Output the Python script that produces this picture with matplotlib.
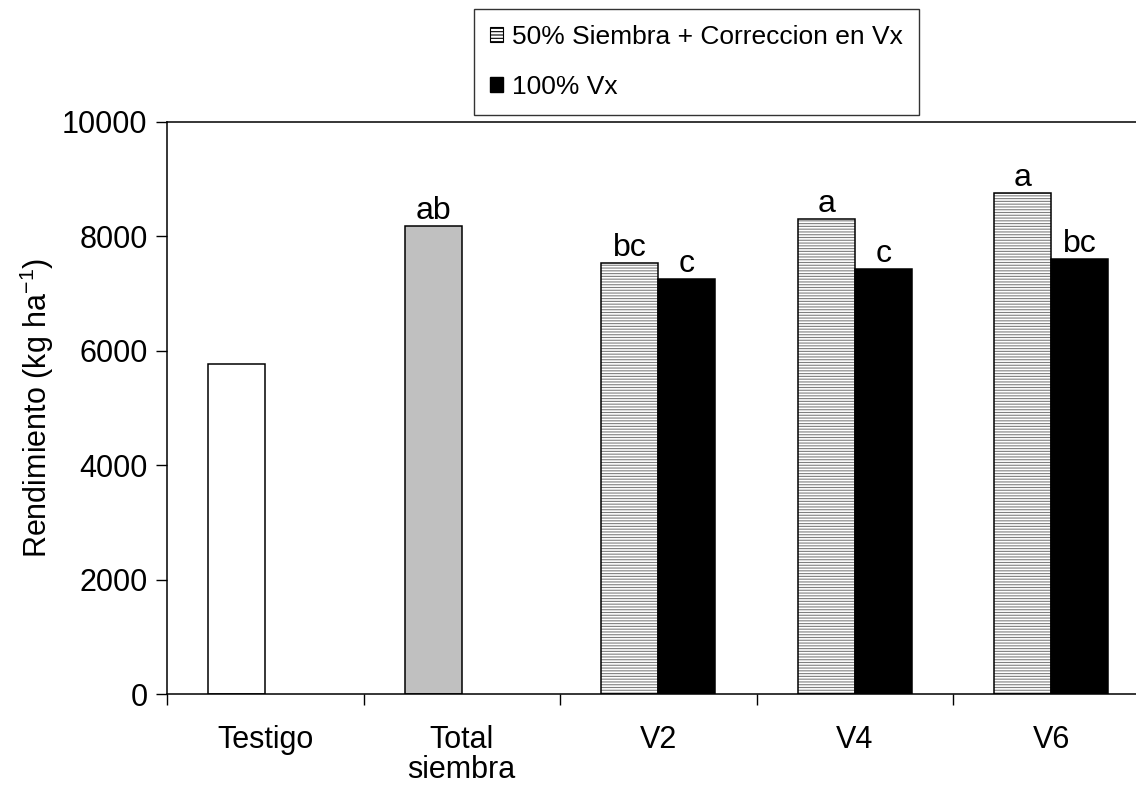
import numpy as np
import matplotlib.pyplot as plt

plt.rcParams['font.family'] = ['Liberation Sans', 'DejaVu Sans']
plt.rcParams['mathtext.fontset'] = 'custom'
plt.rcParams['mathtext.rm'] = 'Liberation Sans'
plt.rcParams['mathtext.it'] = 'Liberation Sans'
plt.rcParams['hatch.linewidth'] = 0.8

# data ---------------------------------------------------------------
categories = ["Testigo", "Total\nsiembra", "V2", "V4", "V6"]
single_vals = [5766, 8183]              # Testigo, Total siembra
single_colors = ["white", "#C0C0C0"]
single_letters = ["", "ab"]
half_vals = [7526, 8295, 8749]          # 50% Siembra + Correccion en Vx
half_letters = ["bc", "a", "a"]
full_vals = [7251, 7426, 7601]          # 100% Vx
full_letters = ["c", "c", "bc"]

W = 0.29

fig = plt.figure(figsize=(11.36, 7.88), dpi=100)
ax = fig.add_axes([167 / 1136, 94 / 788, 982.5 / 1136, 572.3 / 788])

x = np.arange(len(categories))

def label(bars, letters):
    for b, t in zip(bars, letters):
        if t:
            ax.annotate(t, (b.get_x() + b.get_width() / 2, b.get_height()),
                        xytext=(0, 0), textcoords="offset points",
                        ha="center", va="bottom", fontsize=23)

# Testigo / Total siembra
b0 = ax.bar(x[:2] - W / 2, single_vals, W, color=single_colors,
            edgecolor="black", linewidth=1.1)
label(b0, single_letters)

# hatched series: gray hatch first, black outline on top
xv = x[2:]
ax.bar(xv - W / 2, half_vals, W, color="white", edgecolor="#808080",
       hatch="------", linewidth=0)
b1 = ax.bar(xv - W / 2, half_vals, W, fill=False, edgecolor="black",
            linewidth=1.1)
label(b1, half_letters)

b2 = ax.bar(xv + W / 2, full_vals, W, color="black", edgecolor="black",
            linewidth=1.1)
label(b2, full_letters)

# axes ---------------------------------------------------------------
ax.set_xlim(-0.5, 4.5)
ax.set_ylim(0, 10000)
ax.set_yticks(np.arange(0, 10001, 2000))
ax.set_xticks(x)
ax.set_xticklabels(categories, fontsize=22, linespacing=1.0)
ax.set_xticks(np.arange(-0.5, 5, 1), minor=True)
ax.tick_params(axis="x", which="major", length=0, pad=22)
ax.tick_params(axis="x", which="minor", length=8, width=1)
ax.tick_params(axis="y", labelsize=22, length=8, width=1, pad=6)
ax.set_ylabel("Rendimiento (kg ha$^{-1}$)", fontsize=22, labelpad=4)
for s in ax.spines.values():
    s.set_linewidth(1.1)

# legend -------------------------------------------------------------
h1 = plt.Rectangle((0, 0), 1, 1, facecolor="white", edgecolor="black",
                   hatch="-----", linewidth=0.8)
h2 = plt.Rectangle((0, 0), 1, 1, facecolor="black", edgecolor="black")
fig.legend([h1, h2], ["50% Siembra + Correccion en Vx", "100% Vx"],
           loc="upper left", bbox_to_anchor=(474 / 1136, 1 - 9 / 788),
           fontsize=19, frameon=True, fancybox=False, edgecolor="black",
           handlelength=0.5, handleheight=0.5, handletextpad=0.35,
           labelspacing=1.0, borderpad=0.6, borderaxespad=0)

plt.savefig("out.png", dpi=100)
